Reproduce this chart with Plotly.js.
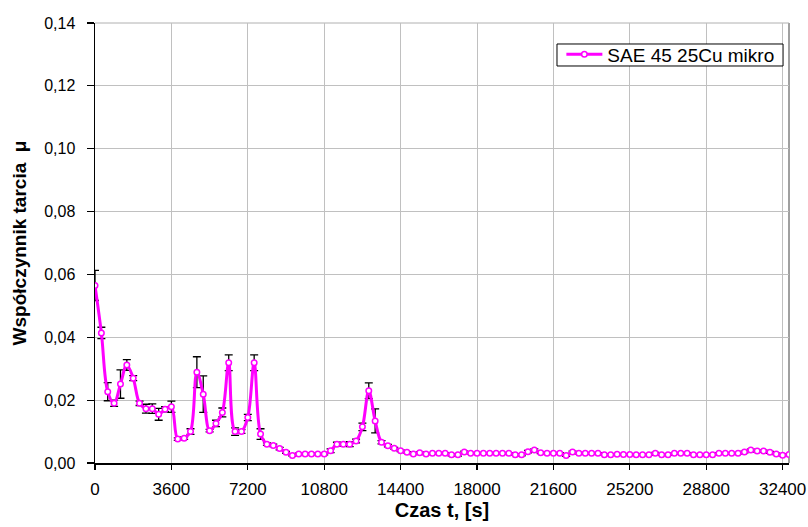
<!DOCTYPE html>
<html>
<head>
<meta charset="utf-8">
<script src="https://cdn.plot.ly/plotly-3.0.1.min.js"></script>
<style>html,body{margin:0;padding:0;background:#fff;}#chart{width:808px;height:527px;}</style>
</head>
<body>
<div id="chart"></div>
<script>
// Time [s]
var timeS = [0,300,600,900,1200,1500,1800,2100,2400,2700,3000,3300,3600,3900,4200,4500,4800,5100,5400,5700,
6000,6300,6600,6900,7200,7500,7800,8100,8400,8700,9000,9300,9600,9900,10200,10500,10800,11100,11400,11700,
12000,12300,12600,12900,13200,13500,13800,14100,14400,14700,15000,15300,15600,15900,16200,16500,16800,17100,17400,17700,
18000,18300,18600,18900,19200,19500,19800,20100,20400,20700,21000,21300,21600,21900,22200,22500,22800,23100,23400,23700,
24000,24300,24600,24900,25200,25500,25800,26100,26400,26700,27000,27300,27600,27900,28200,28500,28800,29100,29400,29700,
30000,30300,30600,30900,31200,31500,31800,32100,32400,32700];
// Friction coefficient mu
var mu = [0.0565,0.0414,0.0227,0.0190,0.0251,0.0312,0.0270,0.0190,0.0173,0.0173,
0.0155,0.0171,0.0179,0.0076,0.0079,0.0100,0.0289,0.0219,0.0103,0.0126,
0.0161,0.0319,0.0100,0.0100,0.0145,0.0319,0.0092,0.0060,0.0056,0.0046,
0.0034,0.0024,0.0029,0.0029,0.0029,0.0029,0.0029,0.0039,0.0060,0.0060,
0.0060,0.0070,0.0115,0.0230,0.0134,0.0066,0.0055,0.0047,0.0039,0.0034,
0.0029,0.0033,0.0029,0.0031,0.0031,0.0031,0.0026,0.0026,0.0035,0.0031,
0.0031,0.0031,0.0031,0.0031,0.0031,0.0031,0.0026,0.0026,0.0036,0.0041,
0.0033,0.0031,0.0031,0.0031,0.0024,0.0035,0.0031,0.0031,0.0031,0.0031,
0.0026,0.0026,0.0028,0.0027,0.0027,0.0026,0.0026,0.0026,0.0031,0.0026,
0.0026,0.0031,0.0031,0.0031,0.0026,0.0026,0.0026,0.0026,0.0031,0.0031,
0.0031,0.0031,0.0035,0.0041,0.0038,0.0038,0.0034,0.0029,0.0025,0.0027];
// Error (+/-)
var muErr = [0.0048,0.0018,0.0029,0.0010,0.0045,0.0017,0.0008,0.0007,0.0014,0.0015,
0.0019,0.0008,0.0018,0.0004,0.0004,0.0009,0.0049,0.0058,0.0004,0.0010,
0.0014,0.0025,0.0012,0.0006,0.0010,0.0025,0.0017,0.0004,0.0004,0.0004,
0.0003,0.0002,0.0002,0.0002,0.0002,0.0002,0.0003,0.0006,0.0006,0.0005,
0.0008,0.0006,0.0012,0.0025,0.0038,0.0005,0.0004,0.0003,0.0003,0.0002,
0.0002,0.0002,0.0002,0.0002,0.0002,0.0002,0.0003,0.0004,0.0003,0.0002,
0.0002,0.0002,0.0002,0.0002,0.0002,0.0002,0.0002,0.0003,0.0004,0.0004,
0.0003,0.0002,0.0002,0.0002,0.0003,0.0003,0.0002,0.0002,0.0002,0.0002,
0.0002,0.0002,0.0002,0.0002,0.0002,0.0002,0.0002,0.0002,0.0003,0.0002,
0.0002,0.0002,0.0002,0.0002,0.0002,0.0002,0.0002,0.0002,0.0002,0.0002,
0.0002,0.0002,0.0003,0.0003,0.0003,0.0003,0.0003,0.0002,0.0002,0.0002];

var xTickVals = [0,3600,7200,10800,14400,18000,21600,25200,28800,32400];
var xTickText = ['0','3600','7200','10800','14400','18000','21600','25200','28800','32400'];
var yTickVals = [0,0.02,0.04,0.06,0.08,0.10,0.12,0.14];
var yTickText = ['0,00','0,02','0,04','0,06','0,08','0,10','0,12','0,14'];
var seriesName = 'SAE 45 25Cu mikro';

var FONT = 'Liberation Sans, Arial, sans-serif';

var errTrace = {
  x: timeS, y: mu, type: 'scatter', mode: 'markers',
  marker: {size: 1, color: 'rgba(0,0,0,0)'},
  error_y: {type: 'data', array: muErr, visible: true, color: '#000000', thickness: 1.3, width: 4},
  showlegend: false, hoverinfo: 'skip'
};
var mainTrace = {
  x: timeS, y: mu, type: 'scatter', mode: 'lines+markers', name: seriesName,
  line: {color: '#FF00FF', width: 3, shape: 'spline', smoothing: 1},
  marker: {symbol: 'circle', size: 5.5, color: '#FFFFFF', line: {color: '#FF00FF', width: 1.5}}
};

var layout = {
  width: 808, height: 527,
  margin: {l: 95, r: 19, t: 23, b: 64},
  paper_bgcolor: '#FFFFFF', plot_bgcolor: '#FFFFFF',
  font: {family: FONT, color: '#000000', size: 16},
  showlegend: true,
  legend: {
    x: 0.672, y: 0.972, xanchor: 'left', yanchor: 'top',
    bgcolor: 'rgba(0,0,0,0)', borderwidth: 0, itemwidth: 36,
    font: {family: FONT, size: 19, color: '#000000'}
  },
  xaxis: {
    range: [0, 32700], tickmode: 'array', tickvals: xTickVals, ticktext: xTickText,
    showgrid: true, gridcolor: '#C0C0C0', gridwidth: 1, zeroline: false,
    showline: true, linecolor: '#000000', linewidth: 1.5,
    ticks: 'outside', ticklen: 5, tickcolor: '#000000', tickwidth: 1.2,
    tickfont: {family: FONT, size: 17, color: '#000000'},
    ticklabelstandoff: 5,
    title: {text: 'Czas t, [s]', font: {family: FONT, size: 20, color: '#000000', weight: 'bold'}, standoff: 5}
  },
  yaxis: {
    range: [0, 0.14], tickmode: 'array', tickvals: yTickVals, ticktext: yTickText,
    showgrid: true, gridcolor: '#C0C0C0', gridwidth: 1, zeroline: false,
    showline: true, linecolor: '#000000', linewidth: 1.5,
    ticks: 'outside', ticklen: 7, tickcolor: '#000000', tickwidth: 1.2,
    tickfont: {family: FONT, size: 16, color: '#000000'},
    ticklabelstandoff: 8,
    title: {text: 'Współczynnik tarcia  μ', font: {family: FONT, size: 19, color: '#000000', weight: 'bold'}, standoff: 12}
  },
  shapes: [
    {type: 'line', xref: 'paper', yref: 'paper', x0: 1, x1: 1, y0: 0, y1: 1, line: {color: '#808080', width: 1.5}, layer: 'below'},
    {type: 'line', xref: 'paper', yref: 'paper', x0: 0, x1: 1, y0: 1, y1: 1, line: {color: '#B0B0B0', width: 1}, layer: 'below'},
    {type: 'rect', xref: 'paper', yref: 'paper', x0: 0.6657, x1: 0.9914, y0: 0.9023, y1: 0.9523,
     fillcolor: '#FFFFFF', line: {color: '#000000', width: 1}, layer: 'above'}
  ]
};

Plotly.newPlot('chart', [errTrace, mainTrace], layout, {displayModeBar: false, staticPlot: true});
</script>
</body>
</html>
